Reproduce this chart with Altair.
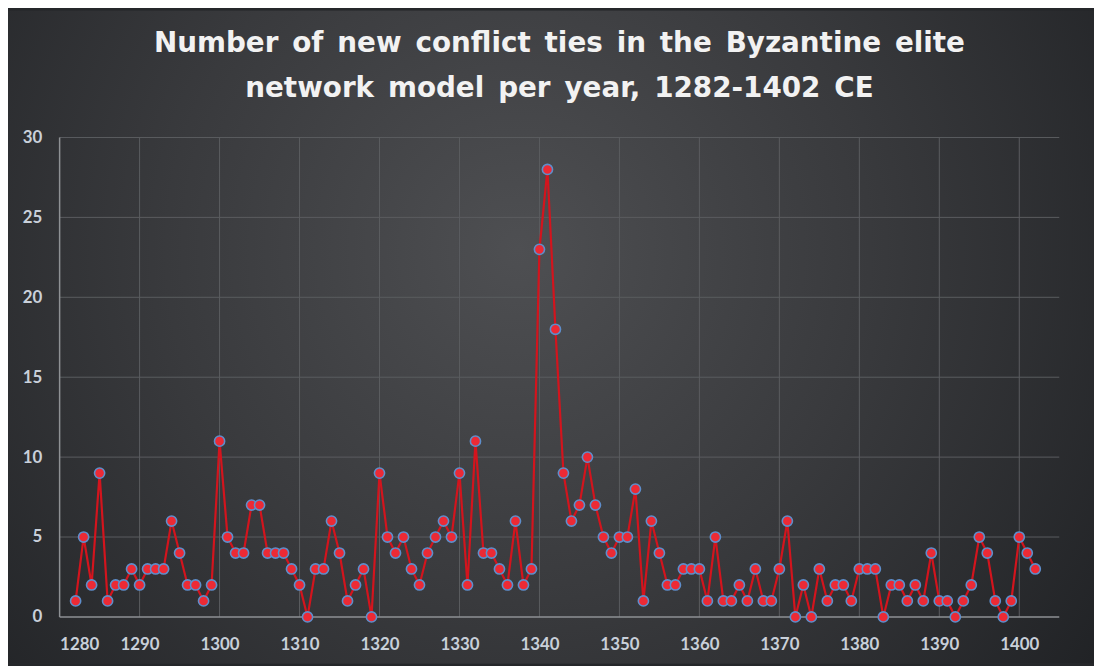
import altair as alt
import pandas as pd

years = list(range(1282, 1403))
ties = [1, 5, 2, 9, 1, 2, 2, 3, 2, 3, 3, 3, 6, 4, 2, 2, 1, 2,
        11, 5, 4, 4, 7, 7, 4, 4, 4, 3, 2, 0, 3, 3, 6, 4, 1, 2, 3, 0,
        9, 5, 4, 5, 3, 2, 4, 5, 6, 5, 9, 2, 11, 4, 4, 3, 2, 6, 2, 3,
        23, 28, 18, 9, 6, 7, 10, 7, 5, 4, 5, 5, 8, 1, 6, 4, 2, 2, 3, 3,
        3, 1, 5, 1, 1, 2, 1, 3, 1, 1, 3, 6, 0, 2, 0, 3, 1, 2, 2, 1,
        3, 3, 3, 0, 2, 2, 1, 2, 1, 4, 1, 1, 0, 1, 2, 5, 4, 1, 0, 1,
        5, 4, 3]
x_ticks = list(range(1280, 1401, 10))
y_ticks = [0, 5, 10, 15, 20, 25, 30]

title_lines = ["Number of new conflict ties in the Byzantine elite",
               "network model per year, 1282-1402 CE"]
title_lines = [t.replace(" ", "\u2002") for t in title_lines]

df = pd.DataFrame({"year": years, "ties": ties})
xgrid = pd.DataFrame({"year": [v for v in x_ticks if v != 1280]})
ygrid = pd.DataFrame({"ties": [v for v in y_ticks if v != 0]})

W, H = 1007, 483
PL, PT, PR, PB = 52, 128, 35, 47

xs = alt.Scale(domain=[1280, 1405], nice=False, zero=False)
ys = alt.Scale(domain=[0, 30], nice=False)
xaxis = alt.Axis(values=x_ticks, format="d", title=None, grid=False,
                 domain=False, ticks=False, labelPadding=20, zindex=1)
yaxis = alt.Axis(values=y_ticks, title=None, grid=False,
                 domain=False, ticks=False, labelPadding=18, zindex=1)

bg = alt.Chart(pd.DataFrame({"a": [0]})).mark_rect(
    color=alt.RadialGradient(
        gradient="radial",
        x1=0.47, y1=0.42, x2=0.47, y2=0.42, r1=0, r2=0.72,
        stops=[alt.GradientStop(color="#4e4f52", offset=0),
               alt.GradientStop(color="#393a3d", offset=0.45),
               alt.GradientStop(color="#1c1e21", offset=1)]
    )
).encode(
    x=alt.value(-PL), x2=alt.value(W + PR),
    y=alt.value(-PT), y2=alt.value(H + PB)
)

vgrid = alt.Chart(xgrid).mark_rule(color="#5b5d60", strokeWidth=1).encode(
    x=alt.X("year:Q", scale=xs, axis=xaxis)
)
hgrid = alt.Chart(ygrid).mark_rule(color="#5b5d60", strokeWidth=1).encode(
    y=alt.Y("ties:Q", scale=ys, axis=yaxis)
)
xdomain = alt.Chart(pd.DataFrame({"ties": [0]})).mark_rule(color="#8e9194", strokeWidth=1.5).encode(
    y=alt.Y("ties:Q", scale=ys, axis=yaxis)
)
ydomain = alt.Chart(pd.DataFrame({"year": [1280]})).mark_rule(color="#8e9194", strokeWidth=1.5).encode(
    x=alt.X("year:Q", scale=xs, axis=xaxis)
)

base = alt.Chart(df).encode(
    x=alt.X("year:Q", scale=xs, axis=xaxis),
    y=alt.Y("ties:Q", scale=ys, axis=yaxis),
)
line = base.mark_line(color="#d3141d", strokeWidth=2.2)
pts = base.mark_point(filled=True, size=105, fill="#ec2a35", stroke="#5e8ecb",
                      strokeWidth=1.6, opacity=1)

chart = alt.layer(bg, vgrid, hgrid, xdomain, ydomain, line, pts).properties(
    width=W, height=H,
    autosize=alt.AutoSizeParams(type="none"),
    padding={"left": PL, "top": PT, "right": PR, "bottom": PB},
    title=alt.TitleParams(title_lines, font="DejaVu Sans", fontSize=28,
                          fontWeight="bold", color="#f2f2f2", lineHeight=45,
                          anchor="middle", frame="group", baseline="bottom",
                          offset=-121),
    background="#25272a",
).configure_axis(
    labelFont="Lato", labelFontSize=17, labelFontWeight="bold",
    labelColor="#c9d0da",
).configure_view(stroke=None)

chart.save("out.html", embed_options={"renderer": "svg", "actions": False})
